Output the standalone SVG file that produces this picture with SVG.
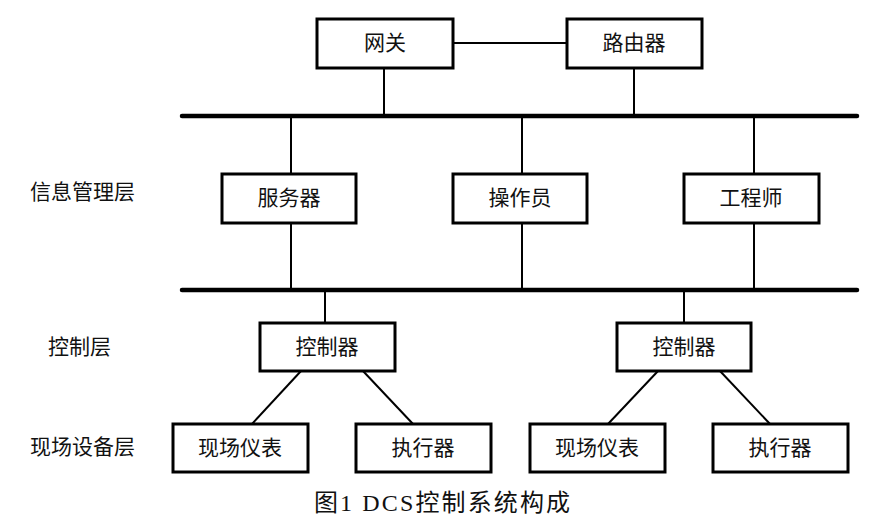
<svg xmlns="http://www.w3.org/2000/svg" width="888" height="517" viewBox="0 0 888 517">
<style>
.b{fill:#fff;stroke:#000;stroke-width:3}
.t{font-family:"Liberation Serif","Noto Sans CJK SC",serif;font-size:21px;fill:#111;text-anchor:middle;dominant-baseline:central}
.l{font-family:"Liberation Serif","Noto Sans CJK SC",serif;font-size:21px;fill:#111}
.c{stroke:#000;stroke-width:2;fill:none}
.bus{stroke:#000;stroke-width:4.5;stroke-linecap:round}
</style>
<rect width="888" height="517" fill="#fff"/>
<g id="connectors">
<line class="bus" x1="182" y1="116" x2="857" y2="116"/>
<line class="bus" x1="182" y1="290" x2="857" y2="290"/>
<line class="c" x1="453" y1="43" x2="567" y2="43"/>
<line class="c" x1="384" y1="68" x2="384" y2="116"/>
<line class="c" x1="634" y1="68" x2="634" y2="116"/>
<line class="c" x1="291" y1="116" x2="291" y2="290"/>
<line class="c" x1="522" y1="116" x2="522" y2="290"/>
<line class="c" x1="754" y1="116" x2="754" y2="290"/>
<line class="c" x1="325" y1="290" x2="325" y2="323"/>
<line class="c" x1="684" y1="290" x2="684" y2="323"/>
<line class="c" x1="301" y1="371" x2="252" y2="424"/>
<line class="c" x1="363" y1="371" x2="413" y2="424"/>
<line class="c" x1="658" y1="371" x2="608" y2="424"/>
<line class="c" x1="720" y1="371" x2="770" y2="424"/>
</g>
<g id="gateway"><rect class="b" x="317" y="19" width="136" height="49"/><text class="t" x="385" y="43">网关</text></g>
<g id="router"><rect class="b" x="567" y="19" width="135" height="49"/><text class="t" x="634" y="43">路由器</text></g>
<g id="server"><rect class="b" x="222" y="174" width="134" height="49"/><text class="t" x="289" y="198">服务器</text></g>
<g id="operator"><rect class="b" x="453" y="174" width="134" height="49"/><text class="t" x="520" y="198">操作员</text></g>
<g id="engineer"><rect class="b" x="684" y="174" width="135" height="49"/><text class="t" x="751" y="198">工程师</text></g>
<g id="ctrl1"><rect class="b" x="260" y="323" width="135" height="48"/><text class="t" x="327" y="347">控制器</text></g>
<g id="ctrl2"><rect class="b" x="617" y="323" width="134" height="48"/><text class="t" x="684" y="347">控制器</text></g>
<g id="field1"><rect class="b" x="173" y="424" width="135" height="48"/><text class="t" x="240" y="448">现场仪表</text></g>
<g id="act1"><rect class="b" x="356" y="424" width="135" height="48"/><text class="t" x="423" y="448">执行器</text></g>
<g id="field2"><rect class="b" x="530" y="424" width="135" height="48"/><text class="t" x="597" y="448">现场仪表</text></g>
<g id="act2"><rect class="b" x="713" y="424" width="135" height="48"/><text class="t" x="780" y="448">执行器</text></g>
<text class="l" x="30" y="199">信息管理层</text>
<text class="l" x="48" y="354">控制层</text>
<text class="l" x="30" y="454">现场设备层</text>
<text class="l" x="314" y="511" style="font-size:24px" textLength="256">图1 DCS控制系统构成</text>
</svg>
